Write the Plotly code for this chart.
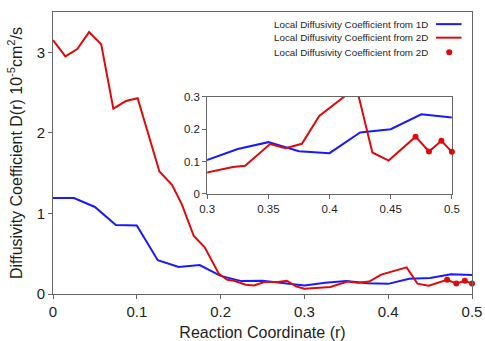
import plotly.graph_objects as go

# ---- data ----
r_1d = [0, 0.025, 0.05, 0.075, 0.1, 0.125, 0.15, 0.175, 0.2, 0.225, 0.25,
        0.275, 0.3, 0.325, 0.35, 0.375, 0.4, 0.425, 0.45, 0.475, 0.5]
d_1d = [1.19, 1.19, 1.08, 0.855, 0.85, 0.42, 0.335, 0.36, 0.225, 0.16, 0.165,
        0.135, 0.105, 0.139, 0.16, 0.132, 0.126, 0.19, 0.2, 0.246, 0.236]

r_2d = [0, 0.0148, 0.029, 0.043, 0.0575, 0.072, 0.087, 0.101, 0.127, 0.142,
        0.154, 0.168, 0.181, 0.198, 0.208, 0.216, 0.23, 0.240, 0.252, 0.268,
        0.279, 0.29, 0.3, 0.321, 0.331, 0.3514, 0.364, 0.3774, 0.3916, 0.422,
        0.435, 0.4483, 0.4703, 0.4813, 0.4914, 0.5]
d_2d = [3.15, 2.95, 3.04, 3.25, 3.10, 2.30, 2.395, 2.43, 1.52, 1.355,
        1.107, 0.72, 0.58, 0.25, 0.177, 0.165, 0.115, 0.107, 0.148, 0.148,
        0.165, 0.095, 0.066, 0.083, 0.087, 0.154, 0.141, 0.155, 0.241, 0.33,
        0.128, 0.103, 0.177, 0.131, 0.164, 0.13]

r_dots = [0.4703, 0.4813, 0.4914, 0.5]
d_dots = [0.177, 0.131, 0.164, 0.13]

legend_labels = ["Local Diffusivity Coefficient from 1D",
                 "Local Diffusivity Coefficient from 2D",
                 "Local Diffusivity Coefficient from 2D"]

main_xticks = [0, 0.1, 0.2, 0.3, 0.4, 0.5]
main_yticks = [0, 1, 2, 3]
inset_xticks = [0.3, 0.35, 0.4, 0.45, 0.5]
inset_yticks = [0, 0.1, 0.2, 0.3]

BLUE = "#1a1aff"
RED = "#e00a0a"
AX = "#666666"
TXT = "#1e1e1e"
FONT = "Liberation Sans, Arial, Helvetica, sans-serif"

fig = go.Figure()
for xa, ya in (("x", "y"), ("x2", "y2")):
    fig.add_trace(go.Scatter(x=r_1d, y=d_1d, mode="lines", xaxis=xa, yaxis=ya,
                             line=dict(color=BLUE, width=2), showlegend=False))
    fig.add_trace(go.Scatter(x=r_2d, y=d_2d, mode="lines", xaxis=xa, yaxis=ya,
                             line=dict(color=RED, width=2), showlegend=False))
    fig.add_trace(go.Scatter(x=r_dots, y=d_dots, mode="markers", xaxis=xa, yaxis=ya,
                             marker=dict(color=RED, size=6), cliponaxis=False,
                             showlegend=False))

common = dict(showline=True, mirror=True, linecolor=AX, linewidth=1,
              ticks="outside", ticklen=4, tickcolor=AX, showgrid=False,
              zeroline=False, automargin=False)

fig.update_layout(
    width=485, height=341,
    margin=dict(l=53, r=13, t=12, b=47),
    paper_bgcolor="white", plot_bgcolor="white",
    font=dict(family=FONT, color=TXT),
    xaxis=dict(range=[0, 0.5], domain=[0, 1], tickvals=main_xticks,
               ticktext=[f"{v:g}" for v in main_xticks],
               tickfont=dict(size=15),
               title=dict(text="Reaction Coordinate (r)", font=dict(size=16), standoff=10),
               **common),
    yaxis=dict(range=[0, 3.5], domain=[0, 1], tickvals=main_yticks,
               tickfont=dict(size=15),
               title=dict(text="Diffusivity Coefficient D(r) 10<sup>-5</sup>cm<sup>2</sup>/s",
                          font=dict(size=16), standoff=10),
               **common),
    xaxis2=dict(range=[0.3, 0.5], domain=[0.368, 0.952], anchor="y2",
                tickvals=inset_xticks, ticktext=[f"{v:g}" for v in inset_xticks],
                tickfont=dict(size=11.5), layer="below traces", **common),
    yaxis2=dict(range=[0, 0.3], domain=[0.355, 0.699], anchor="x2",
                tickvals=inset_yticks, ticktext=[f"{v:g}" for v in inset_yticks],
                tickfont=dict(size=11.5), layer="below traces", **common),
)

# custom legend (text right-aligned, sample to the right)
rows_y = [0.957, 0.909, 0.857]
for lab, yy in zip(legend_labels, rows_y):
    fig.add_annotation(xref="paper", yref="paper", x=0.900, y=yy, text=lab,
                       showarrow=False, xanchor="right", yanchor="middle",
                       font=dict(size=9.8, color=TXT, family=FONT))
fig.add_shape(type="line", xref="paper", yref="paper", x0=0.914, x1=0.975,
              y0=rows_y[0], y1=rows_y[0], line=dict(color=BLUE, width=2))
fig.add_shape(type="line", xref="paper", yref="paper", x0=0.914, x1=0.975,
              y0=rows_y[1], y1=rows_y[1], line=dict(color=RED, width=2))
fig.add_shape(type="circle", xref="paper", yref="paper",
              x0=0.9456 - 0.0072, x1=0.9456 + 0.0072,
              y0=rows_y[2] - 0.0107, y1=rows_y[2] + 0.0107,
              fillcolor=RED, line=dict(color=RED, width=0))

fig.write_html("out.html")
